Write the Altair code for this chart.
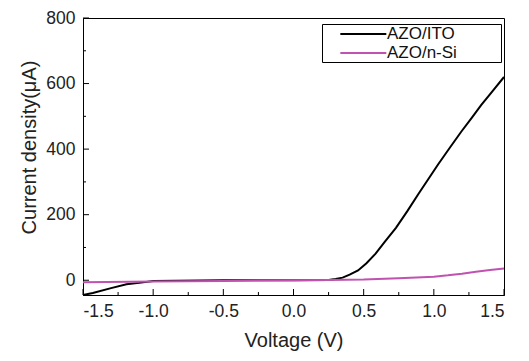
import altair as alt
import pandas as pd

ito_v = [-1.5, -1.43, -1.3, -1.19, -1.1, -1.0, -0.5, 0.0, 0.25, 0.3, 0.35, 0.4, 0.46, 0.52, 0.585, 0.65, 0.73, 0.81, 0.89, 0.96, 1.03, 1.11, 1.195, 1.27, 1.337, 1.42, 1.5]
ito_i = [-45, -39, -24, -12, -8, -2, 0, 0, 1, 4, 8, 17, 30, 52, 81, 117, 160, 210, 263, 308, 353, 402, 453, 495, 534, 578, 620]
si_v = [-1.5, -1.0, -0.5, 0.0, 0.25, 0.5, 0.75, 1.0, 1.1, 1.2, 1.3, 1.4, 1.5]
si_i = [-6, -4, -2, 0, 1, 2, 6, 11, 15, 20, 26, 31, 36]
series = ["AZO/ITO", "AZO/n-Si"]
colors = ["#000000", "#c052b0"]
x_major = [-1.5, -1.0, -0.5, 0.0, 0.5, 1.0, 1.5]
x_minor = [-1.25, -0.75, -0.25, 0.25, 0.75, 1.25]
y_major = [0, 200, 400, 600, 800]
y_minor = [100, 300, 500, 700]
x_title = "Voltage (V)"
y_title = "Current density(μA)"

W, H = 421, 277

df = pd.concat([
    pd.DataFrame({"V": ito_v, "I": ito_i, "s": series[0], "o": range(len(ito_v))}),
    pd.DataFrame({"V": si_v, "I": si_i, "s": series[1], "o": range(len(si_v))}),
])

font = "Liberation Sans"
xs = alt.Scale(domain=[-1.5, 1.5], nice=False, zero=False)
ys = alt.Scale(domain=[-45, 800], nice=False, zero=False)
pad = "\u00a0" * 9 + "\u200b"

lines = alt.Chart(df).mark_line(strokeWidth=2).encode(
    x=alt.X("V:Q", scale=xs, title=x_title,
            axis=alt.Axis(values=x_major, format=".1f", orient="bottom",
                          labelExpr="replace(datum.label, '\u2212', '-')",
                          ticks=False, labelPadding=7, titlePadding=11)),
    y=alt.Y("I:Q", scale=ys, title=y_title,
            axis=alt.Axis(values=y_major, orient="left",
                          ticks=False, labelPadding=8, titlePadding=6, titleY=129)),
    color=alt.Color("s:N", scale=alt.Scale(domain=series, range=colors),
                    legend=alt.Legend(title=None, orient="none", legendX=239, legendY=6,
                                      symbolType="M-1,0H5", symbolSize=235, symbolStrokeWidth=2,
                                      symbolOffset=16, labelOffset=30,
                                      labelExpr=f"datum.label + '{pad}'",
                                      strokeColor="black", padding=1,
                                      labelFontSize=17, labelFont=font, labelColor="#111",
                                      rowPadding=2)),
    order="o:Q",
)

def xticks(vals, size):
    return alt.Chart(pd.DataFrame({"t": vals})).mark_rule(color="black", strokeWidth=1).encode(
        x=alt.X("t:Q", scale=xs, title=x_title), y=alt.value(H), y2=alt.value(H - size))

def yticks(vals, size):
    return alt.Chart(pd.DataFrame({"t": vals})).mark_rule(color="black", strokeWidth=1).encode(
        y=alt.Y("t:Q", scale=ys, title=y_title), x=alt.value(0), x2=alt.value(size))

chart = alt.layer(
    lines, xticks(x_major, 6), xticks(x_minor, 3), yticks(y_major, 6), yticks(y_minor, 3)
).properties(
    width=W, height=H,
    autosize=alt.AutoSizeParams(type="none"),
    padding={"left": 75, "top": 10, "right": 17, "bottom": 58},
).configure_view(stroke="black", strokeWidth=1).configure_axis(
    grid=False, domainColor="black", tickColor="black",
    labelFont=font, titleFont=font, labelFontSize=17.5, titleFontSize=20,
    labelColor="#222", titleColor="#222", titleFontWeight="normal",
)

chart.save("out.html", embed_options={"renderer": "svg", "actions": False})
